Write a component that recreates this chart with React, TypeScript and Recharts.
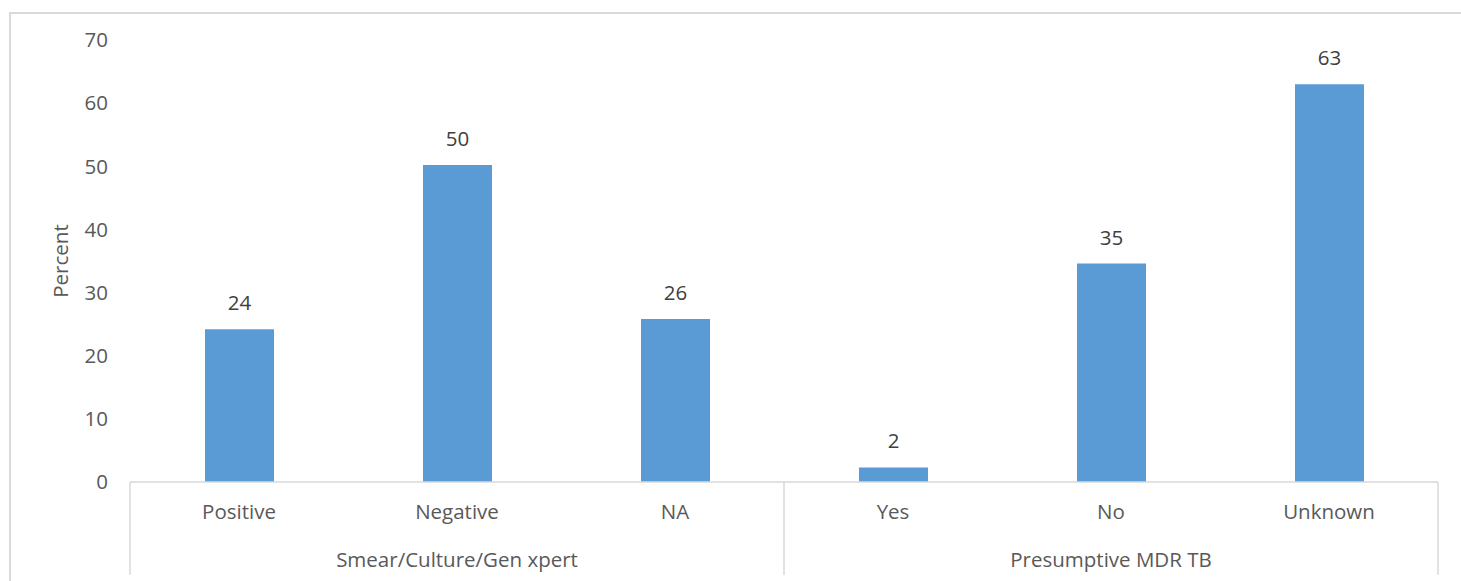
import { BarChart, Bar, XAxis, YAxis, LabelList } from 'recharts';

const categories = ['Positive', 'Negative', 'NA', 'Yes', 'No', 'Unknown'];
const groups = [
  'Smear/Culture/Gen xpert',
  'Smear/Culture/Gen xpert',
  'Smear/Culture/Gen xpert',
  'Presumptive MDR TB',
  'Presumptive MDR TB',
  'Presumptive MDR TB',
];
const percents = [24.2, 50.2, 25.8, 2.3, 34.6, 63.0];
const yTicks = [0, 10, 20, 30, 40, 50, 60, 70];

const data = categories.map((name, i) => ({ name, group: groups[i], value: percents[i] }));
const groupCount = new Set(groups).size;

const W = 1461;
const H = 581;
const margin = { top: 40, right: 23, left: 40, bottom: 0 };
const Y_AXIS_W = 90;
const CAT_AXIS_H = 50;
const GROUP_AXIS_H = 49;
const plotLeft = margin.left + Y_AXIS_W;
const plotRight = W - margin.right;
const plotBottom = H - margin.bottom - CAT_AXIS_H - GROUP_AXIS_H;
const halfGroup = (plotRight - plotLeft) / groupCount / 2;

const FONT = '"Open Sans", sans-serif';
const FS = 20.5;
const TEXT = '#595959';
const LINE = '#d9d9d9';

function GroupTick(props: any) {
  const { x, y, payload, index } = props;
  const isLast = index === groupCount - 1;
  return (
    <g>
      <line x1={x - halfGroup} x2={x - halfGroup} y1={plotBottom} y2={H - 6} stroke={LINE} strokeWidth={1.5} />
      {isLast && (
        <line x1={x + halfGroup} x2={x + halfGroup} y1={plotBottom} y2={H - 6} stroke={LINE} strokeWidth={1.5} />
      )}
      <text x={x} y={y} dy={14} textAnchor="middle" fill={TEXT} fontSize={FS} fontFamily={FONT}>
        {payload.value}
      </text>
    </g>
  );
}

function PercentLabel(props: any) {
  const { viewBox } = props;
  const cx = viewBox.x + 20;
  const cy = viewBox.y + viewBox.height / 2;
  return (
    <text x={cx} y={cy} transform={`rotate(-90, ${cx}, ${cy})`} textAnchor="middle" dominantBaseline="central"
      fill={TEXT} fontSize={FS} fontFamily={FONT}>
      Percent
    </text>
  );
}

export default function App() {
  return (
    <div style={{ position: 'absolute', left: 0, top: 0, width: W, height: H, background: '#fff' }}>
      <div style={{ position: 'absolute', left: 9, top: 12, width: W, height: H, borderLeft: `2px solid ${LINE}`, borderTop: `2px solid ${LINE}` }} />
      <div style={{ position: 'absolute', left: 0, top: 0 }}>
        <BarChart width={W} height={H} data={data} margin={margin} barSize={69}>
          <XAxis
            xAxisId="cat"
            dataKey="name"
            height={CAT_AXIS_H}
            axisLine={{ stroke: LINE, strokeWidth: 1.5 }}
            tickLine={false}
            tickSize={0}
            tickMargin={22}
            tick={{ fill: TEXT, fontSize: FS, fontFamily: FONT }}
            interval={0}
          />
          <XAxis
            xAxisId="group"
            dataKey="group"
            allowDuplicatedCategory={false}
            height={GROUP_AXIS_H}
            axisLine={false}
            tickLine={false}
            tickSize={0}
            tickMargin={21}
            tick={<GroupTick />}
            interval={0}
          />
          <YAxis
            width={Y_AXIS_W}
            domain={[0, 70]}
            ticks={yTicks}
            axisLine={false}
            tickLine={false}
            tickSize={0}
            tickMargin={22}
            tick={{ fill: TEXT, fontSize: FS, fontFamily: FONT }}
            label={{ content: <PercentLabel /> }}
          />
          <Bar xAxisId="cat" dataKey="value" fill="#5b9bd5" isAnimationActive={false}>
            <LabelList
              dataKey="value"
              position="top"
              offset={19}
              formatter={(v: any) => Math.round(Number(v))}
              fill="#404040"
              fontSize={FS}
              fontFamily={FONT}
            />
          </Bar>
        </BarChart>
      </div>
    </div>
  );
}
